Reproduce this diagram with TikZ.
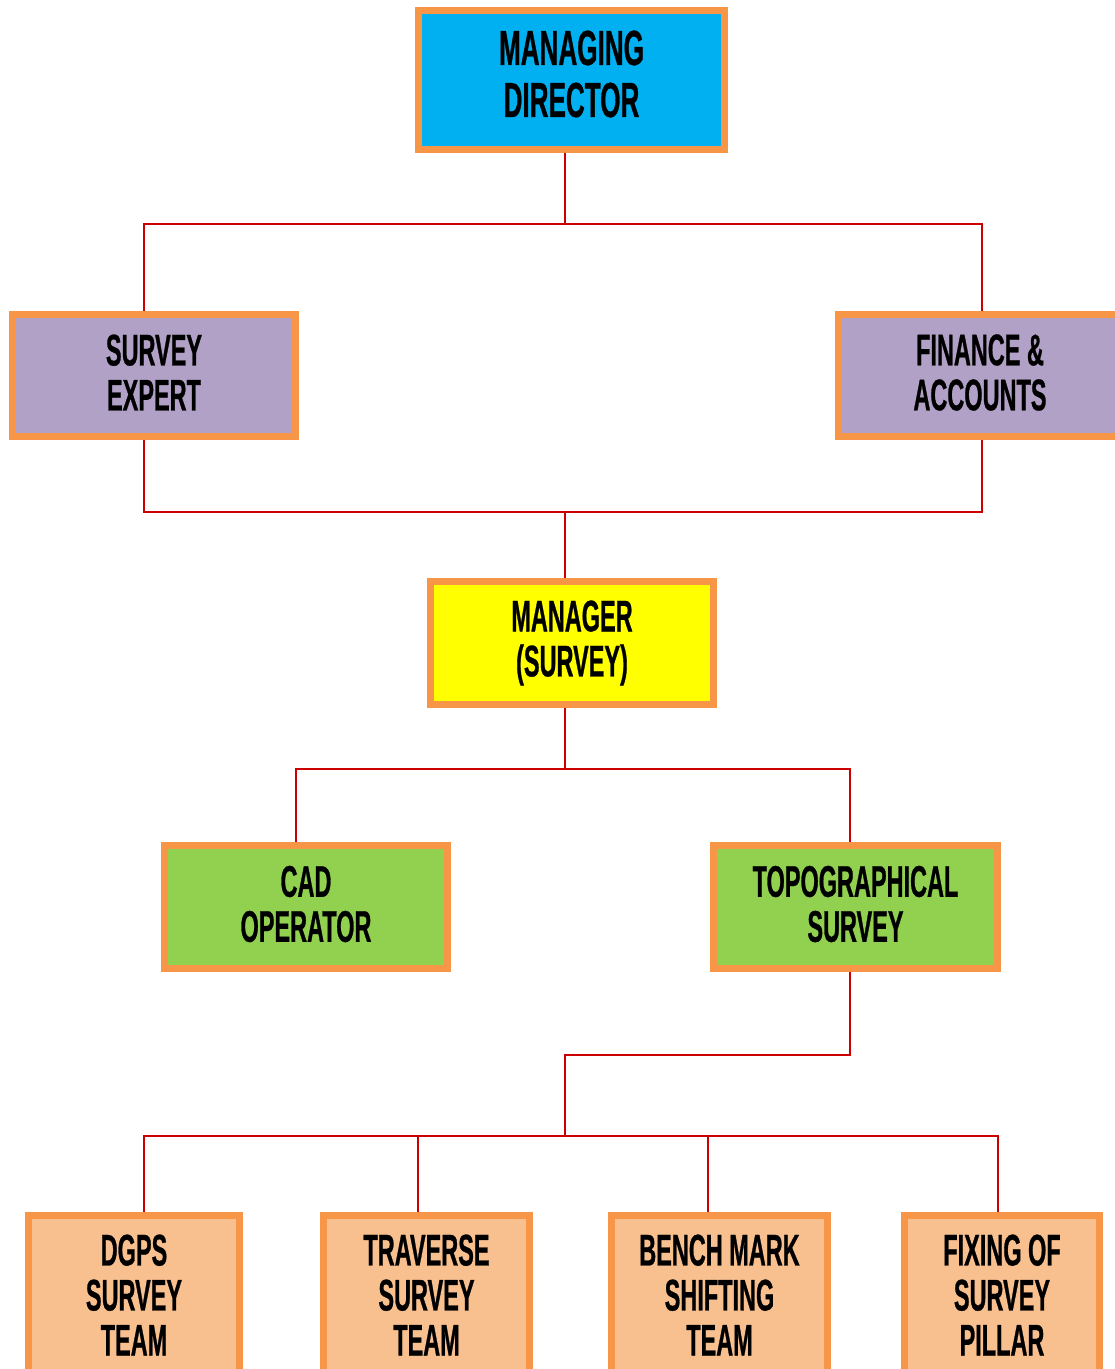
\documentclass[tikz,border=0pt]{standalone}
\usepackage{fontspec}
\newfontfamily\agency{Liberation Sans Bold}[FakeStretch=0.53,FakeBold=0.6]
\definecolor{bord}{HTML}{F79646}
\definecolor{linkred}{HTML}{CC0000}
\definecolor{mdblue}{HTML}{00B0F0}
\definecolor{lilac}{HTML}{B2A1C7}
\definecolor{mgryellow}{HTML}{FFFF00}
\definecolor{leaf}{HTML}{92D050}
\definecolor{peach}{HTML}{F8BF8F}
\tikzset{
  box/.style={draw=bord, line width=2pt, align=center, inner sep=0pt,
    font=\agency\fontsize{12.6}{12.8}\selectfont},
  link/.style={draw=linkred, line width=0.7pt}
}
\begin{document}
\begin{tikzpicture}[x=0.01cm,y=-0.01cm]
\useasboundingbox (0,0) rectangle (1114,1369);
\fill[white] (0,0) rectangle (1114,1369);
% boxes
\node[box, fill=mdblue, minimum width=3.06cm, minimum height=1.39cm,
  font=\agency\fontsize{14}{14.8}\selectfont] (md) at (571.5,80) {};
\node[align=center, inner sep=0pt, font=\agency\fontsize{14}{14.8}\selectfont] (mdt) at (571.5,74) {MANAGING\\DIRECTOR};
\node[box, fill=lilac, minimum width=2.83cm, minimum height=1.22cm] (se) at (154,375.5) {};
\node[align=center, inner sep=0pt, font=\agency\fontsize{12.6}{12.8}\selectfont] (set) at (154,372.5) {SURVEY\\EXPERT};
\node[box, fill=lilac, minimum width=2.83cm, minimum height=1.22cm] (fa) at (980,375.5) {};
\node[align=center, inner sep=0pt, font=\agency\fontsize{12.6}{12.8}\selectfont] (fat) at (980,372.5) {FINANCE \&\\ACCOUNTS};
\node[box, fill=mgryellow, minimum width=2.83cm, minimum height=1.23cm] (mg) at (572,643) {MANAGER\\(SURVEY)};
\node[box, fill=leaf, minimum width=2.83cm, minimum height=1.23cm] (cad) at (306,907) {};
\node[align=center, inner sep=0pt, font=\agency\fontsize{12.6}{12.8}\selectfont] (cadt) at (306,904) {CAD\\OPERATOR};
\node[box, fill=leaf, minimum width=2.84cm, minimum height=1.23cm] (topo) at (855.5,907) {};
\node[align=center, inner sep=0pt, font=\agency\fontsize{12.6}{12.8}\selectfont] (topot) at (855.5,904) {TOPOGRAPHICAL\\SURVEY};
\node[box, fill=peach, minimum width=2.11cm, minimum height=1.59cm] (dgps) at (134,1295) {DGPS\\SURVEY\\TEAM};
\node[box, fill=peach, minimum width=2.06cm, minimum height=1.59cm] (trav) at (426.5,1295) {TRAVERSE\\SURVEY\\TEAM};
\node[box, fill=peach, minimum width=2.16cm, minimum height=1.59cm] (bench) at (719.5,1295) {BENCH MARK\\SHIFTING\\TEAM};
\node[box, fill=peach, minimum width=1.95cm, minimum height=1.59cm] (fix) at (1002,1295) {FIXING OF\\SURVEY\\PILLAR};
% junction coordinates
\coordinate (b1) at (565,224);
\coordinate (b2) at (565,512);
\coordinate (b3) at (565,769);
\coordinate (b4) at (850,1055);
\coordinate (b5) at (565,1136);
% connectors
\draw[link] (md.south -| b1) -- (b1);
\draw[link] (se.north -| 144,0) |- (b1) -| (fa.north -| 982,0);
\draw[link] (se.south -| 144,0) |- (b2) -| (fa.south -| 982,0);
\draw[link] (b2) -- (mg.north -| b2);
\draw[link] (mg.south -| b3) -- (b3);
\draw[link] (cad.north -| 296,0) |- (b3) -| (topo.north -| 850,0);
\draw[link] (topo.south -| b4) -- (b4) -| (b5);
\draw[link] (dgps.north -| 144,0) |- (b5) -| (fix.north -| 998,0);
\draw[link] (trav.north -| 418,0) -- (418,1136);
\draw[link] (bench.north -| 708,0) -- (708,1136);
\end{tikzpicture}
\end{document}
